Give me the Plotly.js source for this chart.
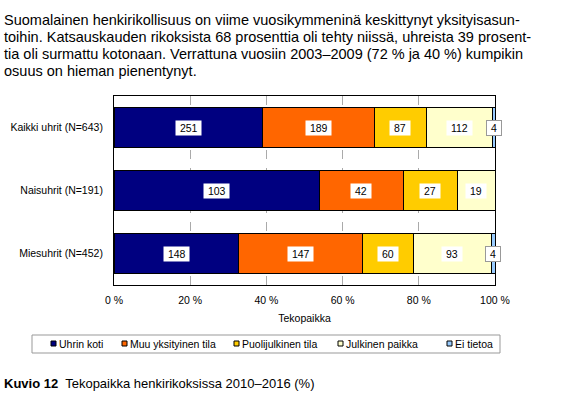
<!DOCTYPE html>
<html>
<head>
<meta charset="utf-8">
<script src="https://cdn.plot.ly/plotly-3.0.1.min.js"></script>
<style>html,body{margin:0;padding:0;background:#fff;}#chart{width:570px;height:394px;}</style>
</head>
<body>
<div id="chart"></div>
<script>
// ---- data ----
var categories = ['Kaikki uhrit (N=643)', 'Naisuhrit (N=191)', 'Miesuhrit (N=452)'];
var seriesNames = ['Uhrin koti', 'Muu yksityinen tila', 'Puolijulkinen tila', 'Julkinen paikka', 'Ei tietoa'];
var uhrinKoti = [251, 103, 148];
var muuYksityinen = [189, 42, 147];
var puolijulkinen = [87, 27, 60];
var julkinenPaikka = [112, 19, 93];
var eiTietoa = [4, 0, 4];
var tickValues = [0, 20, 40, 60, 80, 100];
var tickLabels = ['0 %', '20 %', '40 %', '60 %', '80 %', '100 %'];
var paragraph = [
  'Suomalainen henkirikollisuus on viime vuosikymmeninä keskittynyt yksityisasun-',
  'toihin. Katsauskauden rikoksista 68 prosenttia oli tehty niissä, uhreista 39 prosent-',
  'tia oli surmattu kotonaan. Verrattuna vuosiin 2003–2009 (72 % ja 40 %) kumpikin',
  'osuus on hieman pienentynyt.'
];
var captionBold = 'Kuvio 12';
var captionText = 'Tekopaikka henkirikoksissa 2010–2016 (%)';
var axisTitle = 'Tekopaikka';

// ---- styles ----
var colors = ['#000080', '#FF6600', '#FFCC00', '#FFFFCC', '#99CCFF'];
var FONT = 'Liberation Sans, Arial, sans-serif';
var L = 114, T = 96, W = 381, H = 189;
function px(x) { return (x - L) / W; }
function py(y) { return (T + H - y) / H; }

var series = [uhrinKoti, muuYksityinen, puolijulkinen, julkinenPaikka, eiTietoa];
var totals = categories.map(function (c, i) {
  return series.reduce(function (s, arr) { return s + arr[i]; }, 0);
});
var pct = series.map(function (arr) {
  return arr.map(function (v, i) { return v / totals[i] * 100; });
});

var traces = series.map(function (arr, k) {
  return {
    type: 'bar', orientation: 'h', name: seriesNames[k],
    y: categories, x: pct[k],
    marker: { color: colors[k], line: { color: '#000', width: 1 } },
    hoverinfo: 'skip', showlegend: false
  };
});

var annotations = [];
categories.forEach(function (c, i) {
  var cum = 0;
  series.forEach(function (arr, k) {
    var p = pct[k][i];
    if (arr[i] > 0) {
      annotations.push({
        x: cum + p / 2, y: c, xref: 'x', yref: 'y',
        text: '\u00a0' + arr[i] + '\u00a0', showarrow: false,
        bgcolor: '#fff', borderpad: 1,
        bordercolor: k === 4 ? '#999' : 'rgba(0,0,0,0)', borderwidth: 1,
        font: { family: FONT, size: 10.5, color: '#000' }
      });
    }
    cum += p;
  });
});

// paragraph above the chart
paragraph.forEach(function (line, i) {
  annotations.push({
    xref: 'paper', yref: 'paper', x: px(2), y: py(19.5 + 17.3 * i),
    xanchor: 'left', yanchor: 'middle', text: line, showarrow: false,
    font: { family: FONT, size: 14.5, color: '#000' }
  });
});

// caption
annotations.push({
  xref: 'paper', yref: 'paper', x: px(2), y: py(383), xanchor: 'left', yanchor: 'middle',
  text: '<b>' + captionBold + '</b>\u00a0 ' + captionText, showarrow: false,
  font: { family: FONT, size: 13, color: '#000' }
});

// custom legend
var shapes = [{
  type: 'rect', xref: 'paper', yref: 'paper',
  x0: px(32), x1: px(500), y0: py(353), y1: py(335),
  line: { color: '#999', width: 1 }, fillcolor: 'rgba(0,0,0,0)'
}];
var legendX = [51, 122, 234, 338, 447];
var legendY = 343.5;
seriesNames.forEach(function (n, k) {
  shapes.push({
    type: 'rect', xref: 'paper', yref: 'paper',
    x0: px(legendX[k]), x1: px(legendX[k] + 5), y0: py(legendY + 2.5), y1: py(legendY - 2.5),
    fillcolor: colors[k], line: { color: '#000', width: 1 }
  });
  annotations.push({
    xref: 'paper', yref: 'paper', x: px(legendX[k] + 6), y: py(legendY),
    xanchor: 'left', yanchor: 'middle', text: n, showarrow: false,
    font: { family: FONT, size: 10.5, color: '#000' }
  });
});

var layout = {
  width: 570, height: 394,
  margin: { l: L, r: 570 - L - W, t: T, b: 394 - T - H },
  paper_bgcolor: '#fff', plot_bgcolor: '#fff',
  barmode: 'stack', bargap: 0.37,
  showlegend: false,
  xaxis: {
    range: [0, 100], tickvals: tickValues, ticktext: tickLabels,
    showgrid: true, gridcolor: '#aaa', griddash: 'dash', gridwidth: 1,
    showline: true, linecolor: '#000', linewidth: 1, mirror: true,
    zeroline: false, ticks: '', ticklabelstandoff: 5,
    tickfont: { family: FONT, size: 10.5, color: '#000' },
    title: { text: axisTitle, standoff: 10, font: { family: FONT, size: 10.5, color: '#000' } },
    fixedrange: true
  },
  yaxis: {
    autorange: 'reversed', showline: true, linecolor: '#000', linewidth: 1, mirror: true,
    showgrid: false, zeroline: false, ticks: '', ticklabelstandoff: 8,
    tickfont: { family: FONT, size: 10.5, color: '#000' }, fixedrange: true
  },
  annotations: annotations,
  shapes: shapes
};

Plotly.newPlot('chart', traces, layout, { displayModeBar: false, staticPlot: true });
</script>
</body>
</html>
